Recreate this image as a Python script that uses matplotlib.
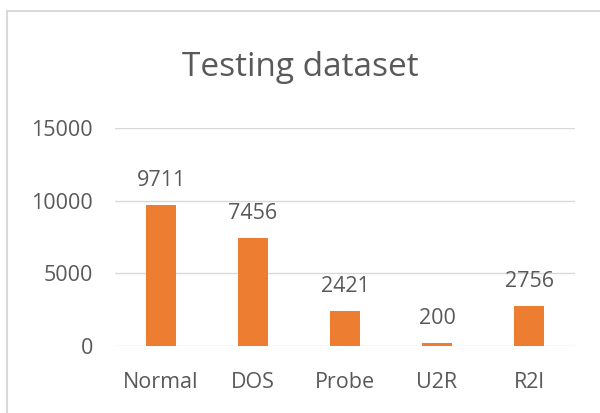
import matplotlib
matplotlib.use('Agg')
import matplotlib.pyplot as plt
from matplotlib.patches import Rectangle

categories = ['Normal', 'DOS', 'Probe', 'U2R', 'R2l']
counts = [9711, 7456, 2421, 200, 2756]
y_ticks = [0, 5000, 10000, 15000]

BAR_COLOR = '#ED7D31'
TEXT_COLOR = '#595959'
GRID_COLOR = '#D9D9D9'

plt.rcParams['font.family'] = ['Open Sans', 'DejaVu Sans']

fig = plt.figure(figsize=(6, 4.13), dpi=100)
fig.patch.set_facecolor('white')

# chart-area frame
fig.patches.append(Rectangle((7 / 600, -0.05), 1.0, 1 - 11 / 413 + 0.05,
                             transform=fig.transFigure, fill=False,
                             edgecolor=GRID_COLOR, linewidth=1.5))

ax = fig.add_axes([115 / 600, 1 - 346 / 413, 460 / 600, (346 - 128) / 413])
x = range(len(categories))
bars = ax.bar(x, counts, width=0.33, color=BAR_COLOR, zorder=3)

for bar, val in zip(bars, counts):
    ax.annotate(str(val), (bar.get_x() + bar.get_width() / 2, bar.get_height()),
                xytext=(0, 10), textcoords='offset points',
                ha='center', va='bottom', fontsize=15.5, color=TEXT_COLOR)

ax.set_xlim(-0.5, len(categories) - 0.5)
ax.set_ylim(0, 15000)
ax.set_yticks(y_ticks)
ax.set_xticks(list(x))
ax.set_xticklabels(categories)
ax.tick_params(axis='both', length=0, labelsize=15.5, colors=TEXT_COLOR)
ax.tick_params(axis='y', pad=16)
ax.tick_params(axis='x', pad=19)
ax.grid(axis='y', color=GRID_COLOR, linewidth=1, zorder=0)
for s in ax.spines.values():
    s.set_visible(False)

fig.text(0.5, 1 - 68 / 413, 'Testing dataset', ha='center', va='center',
         fontsize=24, color=TEXT_COLOR)

plt.savefig('out.png', dpi=100)
plt.close()
